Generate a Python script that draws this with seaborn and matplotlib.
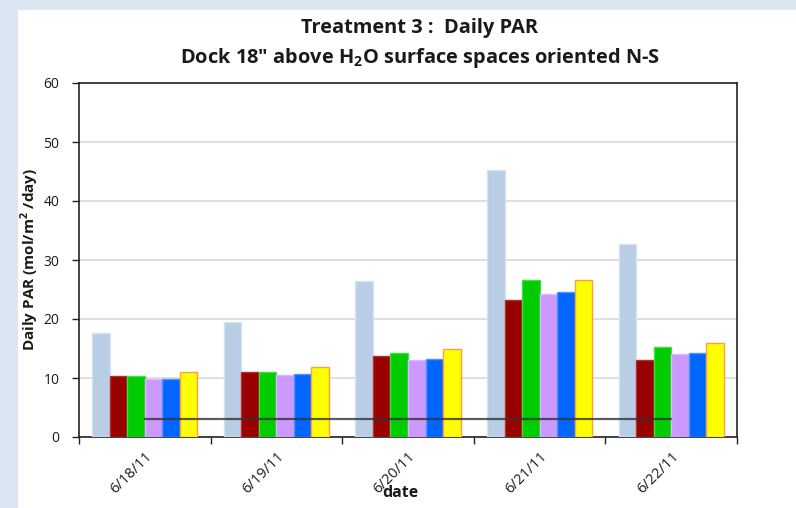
import numpy as np
import pandas as pd
import seaborn as sns
import matplotlib.pyplot as plt
from matplotlib.patches import Rectangle
from matplotlib.transforms import ScaledTranslation

# values
dates = ['6/18/11', '6/19/11', '6/20/11', '6/21/11', '6/22/11']
series = ['Ambient', 'S1', 'S2', 'S3', 'S4', 'S5']
ambient = [17.6, 19.5, 26.4, 45.2, 32.7]
s1 = [10.3, 11.0, 13.7, 23.3, 13.1]
s2 = [10.4, 11.1, 14.3, 26.6, 15.3]
s3 = [9.8, 10.5, 13.0, 24.3, 14.0]
s4 = [9.9, 10.6, 13.2, 24.6, 14.2]
s5 = [11.0, 11.8, 14.9, 26.6, 15.9]
threshold = [3, 3, 3, 3, 3]

colors = ['#b9cde5', '#990000', '#00cc00', '#cc99ff', '#0066ff', '#ffff00']
edges = ['#d5e2f1', '#b03030', '#40e040', '#dbb8ff', '#4d94ff', '#ff9f40']

df = pd.DataFrame({
    'date': np.tile(dates, len(series)),
    'series': np.repeat(series, len(dates)),
    'par': np.concatenate([ambient, s1, s2, s3, s4, s5]),
})

sns.set_theme(style='white')
plt.rcParams['font.family'] = ['Open Sans', 'DejaVu Sans']
plt.rcParams['mathtext.fontset'] = 'custom'
plt.rcParams['mathtext.rm'] = 'Open Sans'
plt.rcParams['mathtext.bf'] = 'Open Sans:bold'
plt.rcParams['text.color'] = '#1a1a1a'
plt.rcParams['axes.labelcolor'] = '#1a1a1a'
plt.rcParams['xtick.labelcolor'] = '#1a1a1a'
plt.rcParams['ytick.labelcolor'] = '#1a1a1a'

fig = plt.figure(figsize=(7.96, 5.08), dpi=100, facecolor='#dce6f2')
fig.patches.append(Rectangle((18 / 796, 0), 1, 1 - 10 / 508, transform=fig.transFigure,
                             facecolor='white', edgecolor='none', zorder=-10))
ax = fig.add_axes([79 / 796, 1 - 437 / 508, 658 / 796, 354 / 508])

sns.barplot(data=df, x='date', y='par', hue='series', palette=colors,
            width=0.8, saturation=1, legend=False, ax=ax, zorder=3)
for bars, ec in zip(ax.containers, edges):
    for b in bars:
        b.set_edgecolor(ec)
        b.set_linewidth(1)

ax.plot(range(len(dates)), threshold, color='#333333', alpha=0.8, lw=1.6, zorder=4)

ax.set_ylim(0, 60)
ax.set_xlim(-0.5, len(dates) - 0.5)
ax.set_yticks(range(0, 61, 10))
ax.yaxis.grid(True, color='#d9d9d9', lw=1.2)
ax.set_axisbelow(True)
for s in ax.spines.values():
    s.set_color('#222222')
    s.set_linewidth(1.2)

ax.set_xticks(range(len(dates)))
ax.set_xticklabels(dates, rotation=45, ha='right', rotation_mode='anchor', fontsize=10.5)
shift = ScaledTranslation(-4 / 100, 0, fig.dpi_scale_trans)
for lbl in ax.get_xticklabels():
    lbl.set_transform(lbl.get_transform() + shift)
ax.set_xticks(np.arange(-0.5, len(dates), 1), minor=True)
ax.tick_params(axis='x', which='major', length=0, pad=9)
ax.tick_params(axis='x', which='minor', length=5, width=1, color='#222222', direction='out', bottom=True)
ax.tick_params(axis='y', length=5, width=1, color='#222222', direction='out', left=True, labelsize=10, pad=9)

ax.set_xlabel('date', fontsize=11.5, fontweight='bold')
ax.xaxis.set_label_coords(0.488, -0.135)
ax.set_ylabel('Daily PAR (mol/m$^\\mathbf{2}$ /day)', fontsize=11, fontweight='bold')
ax.yaxis.set_label_coords(-(79 - 41) / 658, (437 - 259) / 354)

fig.text(420 / 796, 1 - 28 / 508, 'Treatment 3 :  Daily PAR', ha='center', va='center',
         fontsize=14.4, fontweight='bold')
fig.text(420 / 796, 1 - 58 / 508, 'Dock 18" above H$_\\mathbf{2}$O surface spaces oriented N-S',
         ha='center', va='center', fontsize=14.4, fontweight='bold')

fig.savefig('out.png', dpi=100, facecolor=fig.get_facecolor())
